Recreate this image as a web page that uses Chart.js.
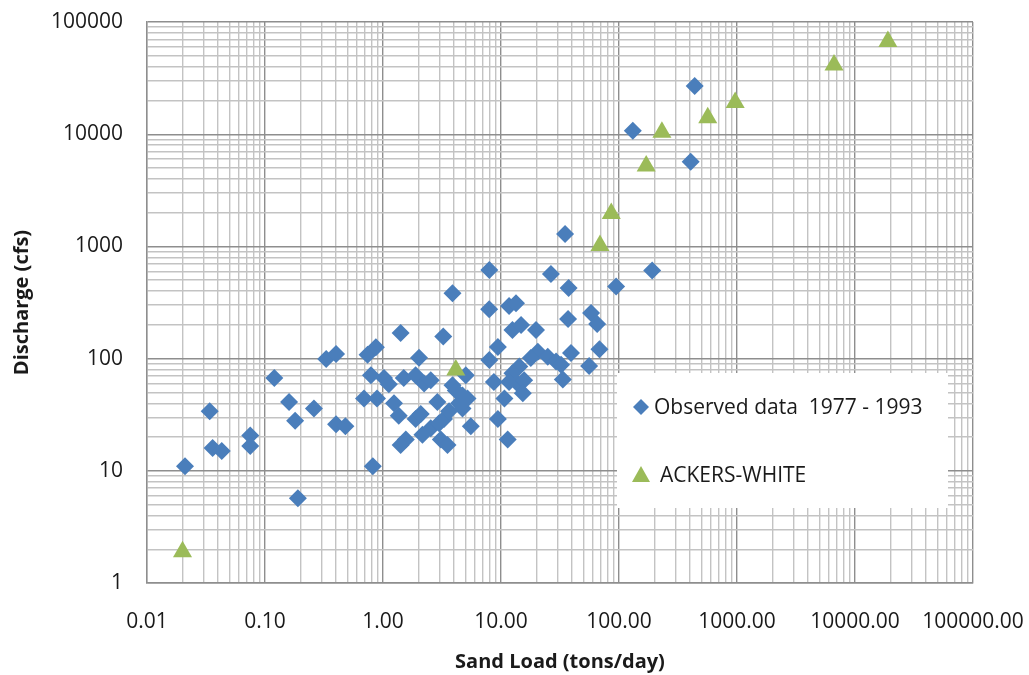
<!DOCTYPE html>
<html>
<head>
<meta charset="utf-8">
<script src="https://cdn.jsdelivr.net/npm/chart.js@4.4.1/dist/chart.umd.min.js"></script>
<style>
  html, body { margin: 0; padding: 0; background: #fff; }
  #wrap { width: 1029px; height: 675px; }
</style>
</head>
<body>
<div id="wrap"><canvas id="sandChart" width="1029" height="675"></canvas></div>
<script>
// observed sand load (tons/day) vs discharge (cfs), 1977 - 1993
var observedLoad = [0.021, 0.034, 0.036, 0.043, 0.075, 0.075, 0.12, 0.16, 0.18, 0.19,
  0.26, 0.33, 0.40, 0.40, 0.48, 0.69, 0.74, 0.87, 0.79, 0.89,
  1.02, 1.12, 0.82, 1.24, 1.36, 1.41, 1.50, 1.56, 1.41, 1.89,
  2.02, 1.89, 2.09, 2.23, 2.54, 2.54, 2.16, 2.89, 2.99, 3.09,
  3.24, 3.29, 3.52, 3.63, 3.88, 3.88, 4.14, 4.41, 4.72, 4.72,
  5.03, 5.2, 5.55, 7.94, 7.96, 7.96, 8.7, 9.41, 9.41, 10.7,
  11.4, 11.7, 13.4, 12.5, 14.8, 19.8, 14.3, 12.5, 11.7, 13.8,
  15.7, 15.3, 20.5, 17.9, 24.9, 29.3, 32.3, 26.5, 34.9, 37.4,
  37.0, 33.4, 39.2, 55.8, 58, 65.3, 68.3, 94.6, 191, 131,
  438, 405];
var observedFlow = [11, 34, 16, 15, 20.6, 16.6, 67, 41, 28, 5.7,
  36, 99, 110, 26, 25, 44, 108, 126, 71, 44,
  67, 59, 11, 40, 31, 169, 67, 19, 17, 71,
  102, 29, 32, 60, 64, 24, 21, 41, 26.5, 19,
  157, 29, 17, 34, 58, 382, 52, 40, 47, 36,
  71, 44, 25, 275, 616, 97, 62, 127, 29, 44,
  19, 294, 311, 180, 199, 180, 85, 74, 62, 60,
  64, 49, 115, 101, 104, 94, 88, 568, 1290, 426,
  225, 65, 112, 86, 255, 203, 121, 439, 610, 10750,
  26900, 5690];

// Ackers-White predictions
var ackersLoad = [0.02, 4.14, 69, 86, 170, 231, 565, 965, 6640, 19000];
var ackersFlow = [1.9, 79, 1020, 1960, 5200, 10400, 14000, 19200, 41400, 67000];

var xTickLabels = ['0.01', '0.10', '1.00', '10.00', '100.00', '1000.00', '10000.00', '100000.00'];
var yTickLabels = ['1', '10', '100', '1000', '10000', '100000'];

function toPoints(xs, ys) {
  return xs.map(function (v, i) { return {x: v, y: ys[i]}; });
}

// every 1..9 step of each decade as a grid line
function logTicks(firstExp, count) {
  var t = [];
  for (var e = firstExp; e < firstExp + count - 1; e++) {
    for (var s = 1; s < 10; s++) {
      t.push({value: Number((s * Math.pow(10, e)).toPrecision(3)), major: s === 1});
    }
  }
  t.push({value: Math.pow(10, firstExp + count - 1), major: true});
  return t;
}

function labelFor(labels, firstExp) {
  return function (value) {
    var e = Math.round(Math.log10(value));
    if (Math.abs(value - Math.pow(10, e)) / value > 1e-6) return '';
    return labels[e - firstExp] || '';
  };
}

var gridColor = function (c) {
  return c.tick && c.tick.major ? '#8e8e8e' : '#c3c3c3';
};

var tickFont = {family: 'Open Sans', size: 21};
var titleFont = {family: 'Open Sans', size: 20, weight: 'bold'};

var legendBox = {
  id: 'legendBox',
  afterDraw: function (chart) {
    var ctx = chart.ctx;
    var sets = chart.data.datasets;
    ctx.save();
    ctx.fillStyle = '#ffffff';
    ctx.fillRect(617, 373, 331, 135);
    ctx.font = '21px "Open Sans"';
    ctx.textBaseline = 'middle';

    // diamond
    ctx.fillStyle = sets[0].backgroundColor;
    ctx.beginPath();
    ctx.moveTo(641, 407 - 8);
    ctx.lineTo(641 + 8, 407);
    ctx.lineTo(641, 407 + 8);
    ctx.lineTo(641 - 8, 407);
    ctx.closePath();
    ctx.fill();
    ctx.fillStyle = '#1a1a1a';
    ctx.fillText(sets[0].label, 654, 408);

    // triangle
    ctx.fillStyle = sets[1].backgroundColor;
    ctx.beginPath();
    ctx.moveTo(641, 466);
    ctx.lineTo(650, 482);
    ctx.lineTo(632, 482);
    ctx.closePath();
    ctx.fill();
    ctx.fillStyle = '#1a1a1a';
    ctx.fillText(sets[1].label, 660, 476);
    ctx.restore();
  }
};

var ctxScatter = document.getElementById('sandChart');
var scatterChart = new Chart(ctxScatter, {
  type: 'scatter',
  data: {
    datasets: [
      {
        label: 'Observed data  1977 - 1993',
        data: toPoints(observedLoad, observedFlow),
        pointStyle: 'rectRot',
        pointRadius: 9,
        borderWidth: 0,
        backgroundColor: '#4a7ebb',
        borderColor: '#4a7ebb',
        order: 1
      },
      {
        label: 'ACKERS-WHITE',
        data: toPoints(ackersLoad, ackersFlow),
        pointStyle: 'triangle',
        pointRadius: 11,
        borderWidth: 0,
        backgroundColor: '#9bbb59',
        borderColor: '#9bbb59',
        order: 0
      }
    ]
  },
  options: {
    responsive: false,
    animation: false,
    layout: {padding: {top: 22, right: 56, left: 0, bottom: 0}},
    plugins: {
      legend: {display: false},
      tooltip: {enabled: false}
    },
    scales: {
      x: {
        type: 'logarithmic',
        min: 0.01,
        max: 100000,
        afterBuildTicks: function (s) { s.ticks = logTicks(-2, 8); },
        afterFit: function (s) {
          s.height = 92;
          s.paddingLeft = 0;
          s.paddingRight = 0;
        },
        grid: {color: gridColor, lineWidth: 1.4, drawTicks: false},
        border: {color: '#8e8e8e', width: 1.4},
        ticks: {
          autoSkip: false,
          maxRotation: 0,
          padding: 26,
          color: '#1a1a1a',
          font: tickFont,
          callback: labelFor(xTickLabels, -2)
        },
        title: {
          display: true,
          text: 'Sand Load (tons/day)',
          color: '#1a1a1a',
          font: titleFont,
          padding: {top: 0, bottom: 1}
        }
      },
      y: {
        type: 'logarithmic',
        min: 1,
        max: 100000,
        afterBuildTicks: function (s) { s.ticks = logTicks(0, 6); },
        afterFit: function (s) {
          s.width = 147;
          s.paddingTop = 0;
          s.paddingBottom = 0;
        },
        grid: {color: gridColor, lineWidth: 1.4, drawTicks: false},
        border: {color: '#8e8e8e', width: 1.4},
        ticks: {
          autoSkip: false,
          padding: 24,
          color: '#1a1a1a',
          font: tickFont,
          callback: labelFor(yTickLabels, 0)
        },
        title: {
          display: true,
          text: 'Discharge (cfs)',
          color: '#1a1a1a',
          font: titleFont,
          padding: {top: 10, bottom: 0}
        }
      }
    }
  },
  plugins: [legendBox]
});
</script>
</body>
</html>
